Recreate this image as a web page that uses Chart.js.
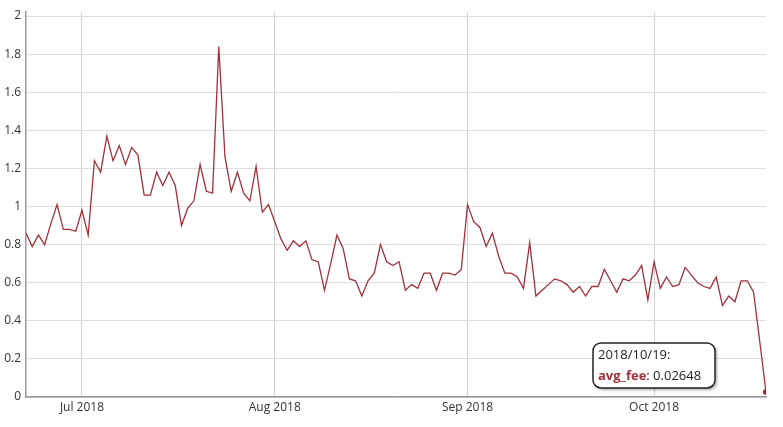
<!DOCTYPE html>
<html>
<head>
<meta charset="utf-8">
<script src="https://cdn.jsdelivr.net/npm/chart.js@4"></script>
<style>
  html, body { margin: 0; padding: 0; background: #fff; }
  #wrap { width: 783px; height: 427px; }
</style>
</head>
<body>
<div id="wrap"><canvas id="feeChart" width="783" height="427"></canvas></div>
<script>
// daily average fee, 2018-06-22 .. 2018-10-19
const startDate = [2018, 5, 22];
const avgFee = [
  0.86, 0.79, 0.85, 0.80, 0.91, 1.01, 0.88, 0.88, 0.87, 0.98,
  0.85, 1.24, 1.18, 1.37, 1.24, 1.32, 1.22, 1.31, 1.27, 1.06,
  1.06, 1.18, 1.11, 1.18, 1.11, 0.90, 0.99, 1.03, 1.22, 1.08,
  1.07, 1.84, 1.26, 1.08, 1.18, 1.07, 1.03, 1.21, 0.97, 1.01,
  0.92, 0.83, 0.77, 0.82, 0.79, 0.82, 0.72, 0.71, 0.56, 0.70,
  0.85, 0.78, 0.62, 0.61, 0.53, 0.61, 0.65, 0.80, 0.71, 0.69,
  0.71, 0.56, 0.59, 0.57, 0.65, 0.65, 0.56, 0.65, 0.65, 0.64,
  0.67, 1.01, 0.92, 0.89, 0.79, 0.86, 0.74, 0.65, 0.65, 0.63,
  0.57, 0.81, 0.53, 0.56, 0.59, 0.62, 0.61, 0.59, 0.55, 0.58,
  0.53, 0.58, 0.58, 0.67, 0.61, 0.55, 0.62, 0.61, 0.64, 0.69,
  0.51, 0.71, 0.57, 0.63, 0.58, 0.59, 0.68, 0.64, 0.60, 0.58,
  0.57, 0.63, 0.48, 0.53, 0.50, 0.61, 0.61, 0.55, 0.29, 0.02648
];
const monthTicks = [9, 40, 71, 101];
const monthLabels = ['Jul 2018', 'Aug 2018', 'Sep 2018', 'Oct 2018'];
const yTicks = [0, 0.2, 0.4, 0.6, 0.8, 1, 1.2, 1.4, 1.6, 1.8, 2];

const pad = n => String(n).padStart(2, '0');
const dates = avgFee.map((v, i) => {
  const d = new Date(startDate[0], startDate[1], startDate[2] + i);
  return d.getFullYear() + '/' + pad(d.getMonth() + 1) + '/' + pad(d.getDate());
});

const lineColor = '#a0303c';
const hoverIndex = avgFee.length - 1;

// dygraph-like legend box beside the highlighted point
const legendBox = {
  id: 'legendBox',
  afterDatasetsDraw(chart) {
    const pt = chart.getDatasetMeta(0).data[hoverIndex];
    const ctx = chart.ctx;
    const w = 122, h = 45;
    const x = pt.x - 173, y = pt.y - 49;
    ctx.save();
    ctx.shadowColor = 'rgba(0,0,0,0.35)';
    ctx.shadowBlur = 3;
    ctx.shadowOffsetX = 2;
    ctx.shadowOffsetY = 2;
    ctx.fillStyle = '#fff';
    ctx.beginPath();
    ctx.roundRect(x, y, w, h, 8);
    ctx.fill();
    ctx.shadowColor = 'transparent';
    ctx.lineWidth = 1.5;
    ctx.strokeStyle = '#222';
    ctx.stroke();
    ctx.textBaseline = 'middle';
    ctx.font = '13px "Open Sans"';
    ctx.fillStyle = '#222';
    ctx.fillText(dates[hoverIndex] + ':', x + 5, y + 12);
    ctx.font = 'bold 13px "Open Sans"';
    ctx.fillStyle = lineColor;
    const name = 'avg_fee';
    ctx.fillText(name, x + 5, y + 33);
    const nw = ctx.measureText(name).width;
    ctx.font = '13px "Open Sans"';
    ctx.fillStyle = '#222';
    ctx.fillText(': ' + avgFee[hoverIndex], x + 5 + nw, y + 33);
    ctx.restore();
  }
};

const ctx = document.getElementById('feeChart').getContext('2d');
new Chart(ctx, {
  type: 'line',
  data: {
    datasets: [{
      label: 'avg_fee',
      data: avgFee.map((v, i) => ({ x: i, y: v })),
      borderColor: lineColor,
      borderWidth: 1.3,
      tension: 0,
      pointRadius: c => c.dataIndex === hoverIndex ? 3 : 0,
      pointBackgroundColor: '#c0202c',
      pointBorderWidth: 0,
      fill: false
    }]
  },
  options: {
    responsive: false,
    animation: false,
    events: [],
    layout: { padding: { top: 8, right: 17, left: 0, bottom: 0 } },
    plugins: { legend: { display: false }, tooltip: { enabled: false } },
    scales: {
      x: {
        type: 'linear',
        min: 0,
        max: avgFee.length - 1,
        afterBuildTicks: axis => { axis.ticks = monthTicks.map(v => ({ value: v })); },
        afterFit: axis => { axis.height = 30; },
        ticks: {
          autoSkip: false,
          maxRotation: 0,
          padding: 3,
          color: '#333',
          font: { family: 'Open Sans', size: 12 },
          callback: (v) => monthLabels[monthTicks.indexOf(v)]
        },
        grid: { color: '#d0d0d0', drawTicks: false, lineWidth: 1 },
        border: { color: '#999', width: 1.5 }
      },
      y: {
        min: 0,
        max: 2.02,
        afterBuildTicks: axis => { axis.ticks = yTicks.map(v => ({ value: v })); },
        afterFit: axis => { axis.width = 26; },
        ticks: {
          padding: 5,
          color: '#333',
          font: { family: 'Open Sans', size: 12 },
          callback: v => String(v)
        },
        grid: { color: '#dedede', drawTicks: false, lineWidth: 1 },
        border: { color: '#999', width: 1.5 }
      }
    }
  },
  plugins: [legendBox]
});
</script>
</body>
</html>
